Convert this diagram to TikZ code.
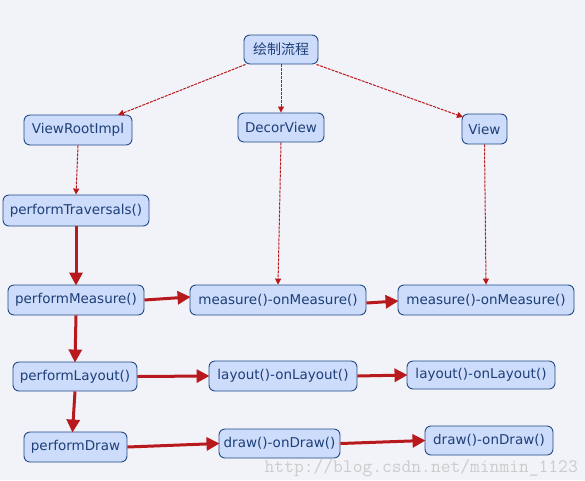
\documentclass[tikz,border=0pt]{standalone}
\usepackage{fontspec}
\setmainfont{DejaVu Sans}
\newfontfamily\cjk{Noto Sans CJK SC}
\usetikzlibrary{arrows.meta}
\definecolor{bgc}{HTML}{F1F3F8}
\definecolor{boxfill}{HTML}{CCDCFA}
\definecolor{boxline}{HTML}{234A88}
\definecolor{boxtext}{HTML}{1E3F78}
\definecolor{flow}{HTML}{B8191D}
\tikzset{
  box/.style={draw=boxline, fill=boxfill, line width=0.9pt, rounded corners=6pt,
    text=boxtext, font=\fontsize{13.5}{15}\selectfont, minimum height=30pt, inner sep=1pt},
  weak/.style={draw=flow, line width=1pt, dash pattern=on 3pt off 1pt,
    -{Triangle[length=6pt,width=6pt]}},
  strong/.style={draw=flow, line width=3pt, -{Triangle[length=13pt,width=13pt]}, shorten >=-1pt}
}
\begin{document}
\begin{tikzpicture}[x=1pt,y=-1pt]
\fill[bgc] (0,0) rectangle (585,480);
\useasboundingbox (0,0) rectangle (585,480);

% top-level entry
\node[box, minimum width=74pt, minimum height=29pt, font=\cjk\fontsize{14}{16}\selectfont] (root) at (281,49.5) {绘制流程};

% second row
\node[box, minimum width=108pt] (vri) at (78,130) {ViewRootImpl};
\node[box, minimum width=86pt, minimum height=29pt] (decor) at (281,127.5) {DecorView};
\node[box, minimum width=45pt] (view) at (484.5,129) {View};

% left column: traversal steps
\node[box, minimum width=146pt, minimum height=31pt] (trav) at (76,210.5) {performTraversals()};
\node[box, minimum width=136pt] (pm) at (76,300) {performMeasure()};
\node[box, minimum width=124pt, minimum height=29pt] (pl) at (75,376.5) {performLayout()};
\node[box, minimum width=103pt] (pd) at (75.5,447) {performDraw};

% measure row
\node[box, minimum width=176pt] (mm) at (278,300) {measure()-onMeasure()};
\node[box, minimum width=176pt] (mr) at (486,300) {measure()-onMeasure()};

% layout row
\node[box, minimum width=148pt] (lm) at (283,376) {layout()-onLayout()};
\node[box, minimum width=148pt, minimum height=28pt] (lr) at (481,375) {layout()-onLayout()};

% draw row
\node[box, minimum width=121pt, minimum height=29pt] (dm) at (279.5,443.5) {draw()-onDraw()};
\node[box, minimum width=128pt, minimum height=29pt] (dr) at (489,440.5) {draw()-onDraw()};

% dashed links
\draw[weak] (root.south west) ++(2,0) -- (118,115);
\draw[weak] (root.south) -- (decor.north);
\draw[weak] (root.south east) ++(-2,0) -- (463,117);
\draw[weak] (vri.south) -- (trav.north);
\draw[weak] (decor.south) -- (mm.north);
\draw[weak] (view.south) -- (mr.north);

% call chain
\draw[strong] (trav.south) -- (pm.north);
\draw[strong] (pm.south) -- (pl.north);
\draw[strong] (pl.south) -- ([xshift=-3pt]pd.north);
\draw[strong] (pm.east) -- ([yshift=3pt]mm.west);
\draw[strong] ([yshift=-3pt]mm.east) -- ([yshift=-1pt]mr.west);
\draw[strong] (pl.east) -- (lm.west);
\draw[strong] (lm.east) -- (lr.west);
\draw[strong] (pd.east) -- (dm.west);
\draw[strong] (dm.east) -- (dr.west);

% blog address
\node[anchor=base east, text=black!20, font=\ttfamily\fontsize{19}{21}\selectfont, inner sep=0pt] (wm) at (578,472) {http://blog.csdn.net/minmin\_1123};
\end{tikzpicture}
\end{document}
